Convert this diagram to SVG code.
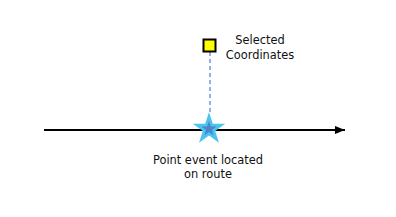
<svg xmlns="http://www.w3.org/2000/svg" width="396" height="217" viewBox="0 0 396 217">
<style>
text{font-family:"DejaVu Sans","Liberation Sans",sans-serif;font-size:11.4px;fill:#111;text-anchor:middle}
</style>
<defs>
<marker id="arr" viewBox="0 0 10 8" refX="10" refY="4" markerWidth="10" markerHeight="8" markerUnits="userSpaceOnUse" orient="auto">
<path d="M0,0 L10,4 L0,8 z" fill="#000"/>
</marker>
</defs>
<rect width="396" height="217" fill="#fff"/>
<g id="connectors">
<line x1="44" y1="130" x2="345" y2="130" stroke="#000" stroke-width="2" marker-end="url(#arr)"/>
<line x1="210" y1="52" x2="210" y2="114" stroke="#4a7fd6" stroke-width="1.2" stroke-dasharray="4,3"/>
</g>
<g id="selected">
<rect x="203.5" y="39.5" width="12" height="12" fill="#ffff00" stroke="#000" stroke-width="2"/>
<text x="260" y="44">Selected</text>
<text x="260" y="59">Coordinates</text>
</g>
<g id="point-event">
<polygon points="209,112 212.8,123.8 225.2,123.8 215.2,131 219,142.8 209,135.6 199,142.8 202.8,131 192.8,123.8 205.2,123.8" fill="#4dc3f0"/>
<polygon points="209,121 210.8,126.5 216.6,126.5 211.9,129.9 213.7,135.4 209,132 204.3,135.4 206.1,129.9 201.4,126.5 207.2,126.5" fill="#4a86c8"/>
<text x="208" y="164">Point event located</text>
<text x="208" y="178">on route</text>
</g>
</svg>
